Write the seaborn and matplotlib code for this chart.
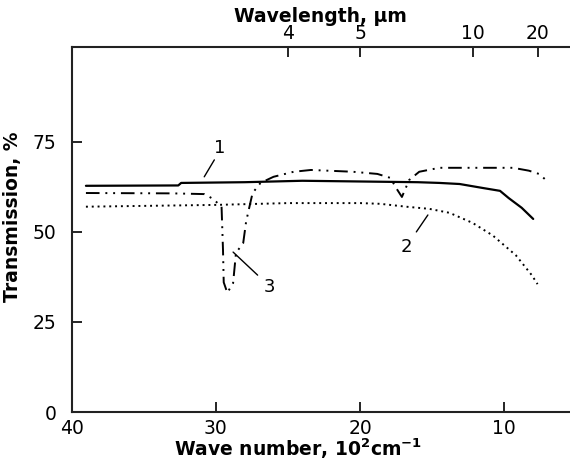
import matplotlib
matplotlib.use("Agg")
import matplotlib.pyplot as plt
import seaborn as sns
import pandas as pd

# ---- data (wave number in 10^2 cm^-1, transmission in %) ----
c1_w = [39.0, 32.6, 32.4, 28.0, 24.0, 20.0, 16.0, 14.5, 13.1, 11.5, 10.3, 9.7, 8.8, 8.0]
c1_T = [62.8, 62.9, 63.6, 63.8, 64.2, 64.0, 63.8, 63.6, 63.3, 62.2, 61.4, 59.4, 56.7, 53.6]

c2_w = [39.0, 30.0, 25.0, 20.0, 18.6, 16.8, 15.2, 13.8, 12.2, 10.8, 9.2, 8.1, 7.7]
c2_T = [57.0, 57.5, 58.0, 58.0, 57.8, 57.0, 56.4, 55.3, 52.5, 49.0, 43.5, 38.0, 35.5]

c3_w = [39.0, 33.0, 30.8, 30.2, 29.6, 29.5, 29.45, 29.2, 28.8, 28.6, 28.1, 27.9, 27.7,
        27.45, 26.9, 26.0, 24.6, 23.4, 20.5, 18.8, 17.9, 17.5, 17.1, 16.6, 15.9, 14.5,
        12.4, 9.4, 8.3, 7.6, 7.2]
c3_T = [60.8, 60.7, 60.5, 59.2, 57.0, 45.0, 36.0, 33.1, 35.8, 44.2, 46.9, 52.8, 56.4,
        60.8, 63.6, 65.3, 66.7, 67.2, 66.7, 66.1, 65.0, 62.2, 59.7, 64.4, 66.7, 67.8,
        67.8, 67.8, 67.0, 66.1, 64.7]

x_ticks = [40, 30, 20, 10]
y_ticks = [0, 25, 50, 75]
top_tick_pos = [25.0, 20.0, 12.2, 7.7]
top_tick_labels = ["4", "5", "10", "20"]

labels_text = ["1", "2", "3"]
label_xy = [(29.7, 73.3), (16.8, 45.8), (26.3, 34.7)]
leader_from = [(30.1, 70.0), (16.1, 50.0), (27.1, 38.0)]
leader_to = [(30.8, 65.3), (15.3, 54.7), (28.8, 44.4)]

# ---- style ----
sns.set_style("ticks")
plt.rcParams["font.family"] = ["DejaVu Sans"]
plt.rcParams["mathtext.fontset"] = "dejavusans"
plt.rcParams["text.color"] = "black"
plt.rcParams["axes.labelcolor"] = "black"
plt.rcParams["xtick.color"] = "black"
plt.rcParams["ytick.color"] = "black"

fig = plt.figure(figsize=(5.70, 4.61), dpi=100)
ax = fig.add_axes([71.5 / 570, 49 / 461, (570 - 71.5) / 570, (412.5 - 48) / 461])

df1 = pd.DataFrame({"w": c1_w, "T": c1_T})
df2 = pd.DataFrame({"w": c2_w, "T": c2_T})
df3 = pd.DataFrame({"w": c3_w, "T": c3_T})

sns.lineplot(data=df1, x="w", y="T", ax=ax, color="black", lw=1.6,
             sort=False, estimator=None)
sns.lineplot(data=df2, x="w", y="T", ax=ax, color="black", lw=1.4,
             sort=False, estimator=None, linestyle=(0, (1, 2)))
sns.lineplot(data=df3, x="w", y="T", ax=ax, color="black", lw=1.4,
             sort=False, estimator=None, linestyle=(0, (7, 3, 1, 3, 1, 3)))

for t, xy, a, b in zip(labels_text, label_xy, leader_from, leader_to):
    ax.text(xy[0], xy[1], t, fontsize=13, ha="center", va="center", color="black")
    ax.plot([a[0], b[0]], [a[1], b[1]], color="black", lw=1.0)

ax.set_xlim(40, 5.45)
ax.set_ylim(0, 101.2)
ax.set_xticks(x_ticks)
ax.set_yticks(y_ticks)
ax.tick_params(axis="both", direction="in", length=7, width=1.2, labelsize=13.5,
               colors="black")
ax.tick_params(axis="x", pad=5)
ax.tick_params(axis="y", pad=11)
for s in ["left", "bottom"]:
    ax.spines[s].set_linewidth(1.5)
    ax.spines[s].set_color("#222222")
ax.spines["right"].set_visible(False)
ax.spines["top"].set_visible(False)

sec = ax.secondary_xaxis("top")
sec.set_xticks(top_tick_pos, top_tick_labels)
sec.tick_params(direction="in", length=7, width=1.2, labelsize=13.5, pad=3,
                colors="black")
sec.spines["top"].set_linewidth(1.5)
sec.spines["top"].set_color("#222222")
sec.set_xlabel("Wavelength, µm", fontsize=13.5, fontweight="bold", labelpad=2,
               color="black")

ax.set_xlabel(r"Wave number, 10$^{\mathbf{2}}$cm$^{\mathbf{-1}}$", fontsize=13.5,
              fontweight="bold", labelpad=0, color="black")
ax.set_ylabel("Transmission, %", fontsize=13.5, fontweight="bold", labelpad=2,
              color="black")
ax.xaxis.set_label_coords(0.455, -0.066)
ax.yaxis.set_label_coords(-0.1, 0.535)

fig.savefig("out.png", dpi=100)
